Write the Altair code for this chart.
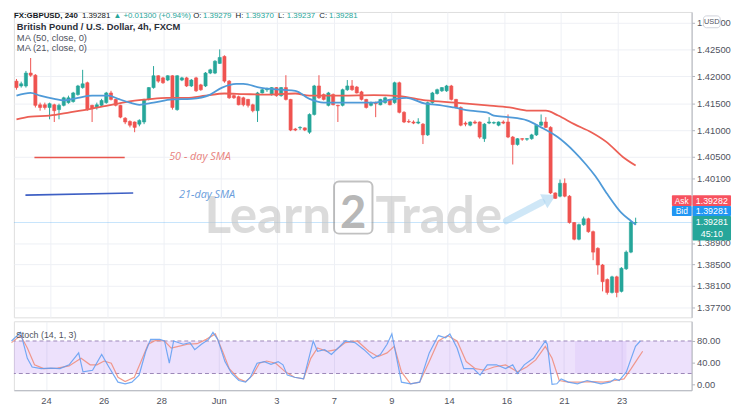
import json
import altair as alt
import pandas as pd

# ---------------- data ----------------
opens = [
1.4191, 1.4182, 1.4182, 1.4206, 1.4202, 1.4147, 1.4147, 1.4142, 1.4147, 1.4138,
1.4146, 1.4151, 1.4153, 1.4166, 1.4179, 1.4188, 1.4146, 1.4142, 1.4146, 1.4151,
1.4169, 1.4157, 1.4146, 1.4122, 1.4116, 1.4115, 1.4111, 1.4115, 1.4157, 1.4179,
1.4201, 1.4197, 1.4193, 1.4201, 1.4138, 1.4193, 1.4197, 1.4182, 1.4197, 1.4184,
1.4182, 1.4206, 1.4206, 1.4224, 1.4237, 1.4191, 1.4164, 1.4162, 1.4160, 1.4157,
1.4147, 1.4136, 1.4169, 1.4175, 1.4166, 1.4179, 1.4164, 1.4179, 1.4157, 1.4102,
1.4104, 1.4104, 1.4096, 1.4129, 1.4182, 1.4166, 1.4146, 1.4166, 1.4146, 1.4146,
1.4175, 1.4182, 1.4180, 1.4171, 1.4157, 1.4146, 1.4151, 1.4147, 1.4151, 1.4157,
1.4151, 1.4188, 1.4133, 1.4116, 1.4115, 1.4113, 1.4111, 1.4091, 1.4151, 1.4168,
1.4173, 1.4173, 1.4182, 1.4157, 1.4142, 1.4113, 1.4109, 1.4115, 1.4115, 1.4084,
1.4113, 1.4113, 1.4109, 1.4115, 1.4115, 1.4087, 1.4073, 1.4084, 1.4083, 1.4084,
1.4091, 1.4109, 1.4115, 1.4105, 1.3983, 1.3977, 1.4001, 1.3977, 1.3928, 1.3897,
1.3924, 1.3935, 1.3911, 1.3880, 1.3849, 1.3822, 1.3798, 1.3827, 1.3800, 1.3842,
1.3873, 1.39279]

highs = [
1.4195, 1.4190, 1.4210, 1.4234, 1.4204, 1.4151, 1.4151, 1.4151, 1.4149, 1.4149,
1.4162, 1.4164, 1.4171, 1.4184, 1.4212, 1.4190, 1.4147, 1.4151, 1.4158, 1.4171,
1.4173, 1.4158, 1.4147, 1.4124, 1.4118, 1.4116, 1.4120, 1.4158, 1.4180, 1.4219,
1.4202, 1.4199, 1.4202, 1.4202, 1.4202, 1.4199, 1.4199, 1.4195, 1.4199, 1.4186,
1.4208, 1.4214, 1.4230, 1.4250, 1.4239, 1.4193, 1.4166, 1.4164, 1.4162, 1.4158,
1.4149, 1.4171, 1.4177, 1.4179, 1.4180, 1.4180, 1.4180, 1.4202, 1.4158, 1.4104,
1.4107, 1.4105, 1.4131, 1.4184, 1.4202, 1.4168, 1.4171, 1.4168, 1.4147, 1.4177,
1.4193, 1.4193, 1.4182, 1.4173, 1.4158, 1.4153, 1.4153, 1.4158, 1.4162, 1.4158,
1.4190, 1.4190, 1.4135, 1.4120, 1.4118, 1.4122, 1.4113, 1.4153, 1.4171, 1.4177,
1.4180, 1.4184, 1.4184, 1.4158, 1.4144, 1.4116, 1.4116, 1.4118, 1.4116, 1.4113,
1.4124, 1.4116, 1.4116, 1.4118, 1.4129, 1.4089, 1.4085, 1.4085, 1.4085, 1.4093,
1.4111, 1.4129, 1.4124, 1.4107, 1.3984, 1.4008, 1.4010, 1.3979, 1.3929, 1.3926,
1.3939, 1.3937, 1.3913, 1.3882, 1.3851, 1.3824, 1.3829, 1.3829, 1.3845, 1.3876,
1.3931, 1.39370]

lows = [
1.4175, 1.4179, 1.4179, 1.4199, 1.4142, 1.4136, 1.4138, 1.4120, 1.4115, 1.4120,
1.4144, 1.4149, 1.4151, 1.4164, 1.4177, 1.4136, 1.4115, 1.4138, 1.4144, 1.4149,
1.4155, 1.4144, 1.4122, 1.4111, 1.4105, 1.4096, 1.4107, 1.4111, 1.4155, 1.4177,
1.4188, 1.4186, 1.4191, 1.4138, 1.4136, 1.4191, 1.4180, 1.4180, 1.4171, 1.4173,
1.4180, 1.4204, 1.4204, 1.4223, 1.4188, 1.4158, 1.4158, 1.4146, 1.4144, 1.4142,
1.4133, 1.4115, 1.4168, 1.4171, 1.4164, 1.4162, 1.4162, 1.4155, 1.4098, 1.4098,
1.4100, 1.4098, 1.4093, 1.4127, 1.4158, 1.4155, 1.4144, 1.4146, 1.4115, 1.4144,
1.4173, 1.4173, 1.4168, 1.4155, 1.4140, 1.4144, 1.4124, 1.4146, 1.4149, 1.4146,
1.4149, 1.4131, 1.4113, 1.4113, 1.4111, 1.4111, 1.4074, 1.4089, 1.4149, 1.4166,
1.4171, 1.4171, 1.4155, 1.4140, 1.4107, 1.4107, 1.4107, 1.4111, 1.4084, 1.4078,
1.4111, 1.4111, 1.4107, 1.4111, 1.4085, 1.4036, 1.4071, 1.4080, 1.4080, 1.4082,
1.4089, 1.4107, 1.4104, 1.3981, 1.3972, 1.3975, 1.3975, 1.3926, 1.3895, 1.3895,
1.3922, 1.3909, 1.3858, 1.3831, 1.3800, 1.3794, 1.3796, 1.3789, 1.3798, 1.3840,
1.3871, 1.39237]

closes = [
1.4179, 1.4186, 1.4206, 1.4202, 1.4146, 1.4142, 1.4142, 1.4149, 1.4136, 1.4146,
1.4160, 1.4160, 1.4169, 1.4182, 1.4186, 1.4138, 1.4140, 1.4147, 1.4155, 1.4169,
1.4157, 1.4146, 1.4124, 1.4115, 1.4109, 1.4105, 1.4118, 1.4157, 1.4179, 1.4201,
1.4191, 1.4188, 1.4201, 1.4142, 1.4201, 1.4197, 1.4182, 1.4193, 1.4173, 1.4175,
1.4206, 1.4212, 1.4228, 1.4235, 1.4191, 1.4160, 1.4160, 1.4147, 1.4147, 1.4146,
1.4136, 1.4169, 1.4175, 1.4177, 1.4179, 1.4164, 1.4179, 1.4157, 1.4100, 1.4100,
1.4105, 1.4100, 1.4129, 1.4182, 1.4160, 1.4157, 1.4169, 1.4147, 1.4145, 1.4175,
1.4182, 1.4175, 1.4169, 1.4157, 1.4142, 1.4151, 1.4149, 1.4157, 1.4160, 1.4147,
1.4188, 1.4133, 1.4115, 1.4115, 1.4113, 1.4115, 1.4091, 1.4151, 1.4169, 1.4175,
1.4179, 1.4182, 1.4157, 1.4142, 1.4109, 1.4111, 1.4115, 1.4113, 1.4087, 1.4111,
1.4115, 1.4114, 1.4115, 1.4113, 1.4087, 1.4073, 1.4084, 1.4083, 1.4084, 1.4091,
1.4109, 1.4115, 1.4105, 1.3983, 1.3973, 1.4001, 1.3977, 1.3928, 1.3897, 1.3924,
1.3935, 1.3911, 1.3873, 1.3849, 1.3818, 1.3798, 1.3827, 1.3798, 1.3843, 1.3873,
1.3929, 1.39281]

ma21_idx = [0, 3, 5, 8, 10, 13, 16, 19.5, 21.5, 24, 26, 29, 33, 37, 41, 43.5, 46.5, 48,
            51.5, 56, 59, 62, 65, 68.5, 75.5, 79.5, 82.5, 86.5, 89, 92.5, 96, 99.5, 101,
            104, 108, 111, 114.5, 118, 120.5, 122.5, 125, 128, 130, 131]
ma21_val = [1.4164, 1.4169, 1.4164, 1.4158, 1.4155, 1.4160, 1.4164, 1.4164, 1.4158, 1.4151,
            1.4147, 1.4151, 1.4157, 1.4158, 1.4166, 1.4179, 1.4186, 1.4186, 1.4179, 1.4175,
            1.4173, 1.4158, 1.4151, 1.4151, 1.4151, 1.4157, 1.4160, 1.4149, 1.4147, 1.4142,
            1.4136, 1.4133, 1.4127, 1.4124, 1.4118, 1.4105, 1.4087, 1.4060, 1.4036, 1.4014,
            1.3981, 1.3946, 1.3931, 1.3924]

ma50_idx = [0, 3, 7, 11.3, 16, 19.5, 23.6, 27.7, 31.8, 36, 40, 44, 48, 52.4, 59, 62, 68.8,
            75.6, 81, 86.6, 92.8, 99.6, 104.3, 108.4, 112, 114.6, 118, 121.6, 124.8, 128.3, 131]
ma50_val = [1.4120, 1.4125, 1.4127, 1.4133, 1.4140, 1.4146, 1.4153, 1.4157, 1.4160, 1.4160,
            1.4164, 1.4168, 1.4167, 1.4166, 1.4168, 1.4164, 1.4164, 1.4165, 1.4163, 1.4155,
            1.4151, 1.4146, 1.4142, 1.4136, 1.4136, 1.4127, 1.4111, 1.4096, 1.4078, 1.4050,
            1.4034]

k_idx = [0, 1.9, 3.3, 4.3, 6.2, 8.2, 10.1, 12.0, 14.0, 14.9, 16.9, 18.8, 20.3, 22.2, 23.7,
         25.1, 26.6, 28.0, 29.0, 30.9, 31.9, 32.9, 33.8, 35.8, 37.2, 38.2, 39.6, 41.1, 42.0,
         43.0, 44.5, 45.9, 47.4, 48.8, 49.8, 51.2, 52.7, 54.1, 55.6, 56.6, 57.5, 59.0, 60.9,
         62.9, 63.8, 65.3, 66.7, 69.6, 71.6, 73.5, 75.4, 76.9, 78.3, 79.3, 81.3, 83.2, 85.1,
         87.1, 89.0, 90.5, 91.4, 92.9, 94.3, 96.3, 97.7, 99.2, 101.1, 103.0, 104.5, 105.5,
         106.9, 108.8, 110.3, 111.3, 111.7, 112.7, 113.7, 114.6, 116.1, 118.0, 120.0, 121.4,
         122.9, 124.8, 125.8, 126.7, 128.2, 129.2, 130.1, 131.1]
k_val = [80, 96, 48, 32, 29, 30, 29, 36, 58, 23, 26, 55, 32, 4, 1, 4, 17, 61, 83, 83,
         80, 39, 80, 74, 77, 64, 74, 83, 96, 83, 42, 20, 7, 4, 13, 39, 42, 37, 42, 36,
         17, 13, 10, 80, 61, 64, 55, 80, 77, 64, 48, 55, 74, 93, 4, 1, 4, 58, 90, 86,
         93, 67, 29, 29, 17, 36, 36, 29, 36, 20, 36, 48, 67, 80, 74, 0, 1, 10, 4, 1,
         7, 4, 1, 4, 10, 7, 23, 48, 70, 80]

d_idx = [0, 1.9, 3.3, 4.8, 6.7, 9.6, 12.0, 14.5, 16.4, 17.8, 19.3, 20.8, 22.2, 23.7, 25.6,
         27.0, 28.5, 30.0, 31.9, 33.3, 34.8, 36.7, 38.7, 40.6, 42.5, 44.0, 45.4, 47.4, 48.8,
         50.3, 51.7, 53.2, 55.1, 57.1, 59.0, 60.9, 62.4, 63.8, 65.8, 67.7, 69.6, 72.1, 74.5,
         76.4, 78.3, 79.8, 81.3, 83.2, 85.1, 87.1, 89.0, 90.9, 92.9, 94.8, 96.7, 98.7, 100.6,
         103.0, 105.5, 107.4, 109.3, 111.3, 112.7, 114.2, 116.1, 118.5, 120.9, 123.4, 125.8,
         127.7, 129.2, 130.6, 131.6]
d_val = [77, 90, 67, 36, 29, 30, 34, 48, 36, 36, 43, 39, 13, 5, 13, 42, 74, 81, 80, 67,
         70, 74, 75, 83, 93, 61, 29, 10, 5, 17, 39, 43, 39, 23, 13, 10, 48, 67, 61, 64,
         77, 80, 61, 51, 58, 70, 23, 1, 4, 42, 80, 90, 80, 42, 29, 26, 32, 36, 23, 32,
         45, 70, 48, 7, 4, 4, 5, 4, 7, 10, 29, 48, 61]

x_labels = ["24", "26", "28", "Jun", "3", "7", "9", "14", "16", "21", "23"]
x_label_pos = [7.2, 19.2, 31.2, 43.2, 55.2, 67.2, 79.2, 91.2, 103.2, 115.2, 127.2]
price_ticks = [1.43, 1.425, 1.42, 1.415, 1.41, 1.405, 1.401, 1.389, 1.385, 1.381, 1.377]
stoch_ticks = [0, 40, 80]
stoch_band = [20, 80]
stoch_shade_idx = [117.5, 128.2]
last_price = 1.39281

# hand-drawn legend in the picture
leg50_idx = [3.8, 22.9]
leg50_price = [1.4049, 1.4049]
leg21_idx = [1.9, 24.7]
leg21_price = [1.3979, 1.3983]
leg_text = ["50 - day SMA", "21-day SMA"]
leg_text_idx = [32.3, 34.4]
leg_text_price = [1.4049, 1.3979]

for name, arr in [("highs", highs), ("lows", lows), ("closes", closes)]:
    if len(arr) != len(opens):
        raise SystemExit(f"{name} has {len(arr)} values, opens has {len(opens)}")

# ---------------- build ----------------
FONT = "Liberation Sans"
GREEN = "#26a69a"
RED = "#ef5350"
W = 688
H_MAIN = 310
H_STO = 70
X_DOMAIN = [0.5, 141.8]
Y_DOMAIN = [1.37517, 1.43196]
S_DOMAIN = [-10.9, 116.4]
GRID = "#eef0f5"
AXIS_LINE = "#b2b5be"

candles = pd.DataFrame({"i": list(range(len(opens))), "open": opens, "high": highs,
                        "low": lows, "close": closes})
candles["dir"] = ["up" if c >= o else "down" for o, c in zip(opens, closes)]

xs = alt.Scale(domain=X_DOMAIN, nice=False, zero=False)
ys = alt.Scale(domain=Y_DOMAIN, nice=False, zero=False)
ss = alt.Scale(domain=S_DOMAIN, nice=False, zero=False)
cs = alt.Scale(domain=["up", "down"], range=[GREEN, RED])

x_axis_main = alt.Axis(values=x_label_pos, labels=False, ticks=False, domain=False,
                       grid=True, gridColor=GRID, title=None)
y_axis_main = alt.Axis(orient="right", values=price_ticks, format=".5f", title=None,
                       labelFont=FONT, labelFontSize=9.5, labelColor="#50535e",
                       tickSize=3, tickColor=AXIS_LINE, labelPadding=2,
                       domainColor=AXIS_LINE, grid=True, gridColor=GRID)
label_expr = json.dumps(x_labels) + "[round((datum.value - 7.2) / 12)]"
x_axis_sto = alt.Axis(values=x_label_pos, labelExpr=label_expr, title=None, ticks=False,
                      grid=True, gridColor=GRID, domainColor=AXIS_LINE, labelFont=FONT,
                      labelFontSize=9.5, labelColor="#50535e", labelPadding=5)
y_axis_sto = alt.Axis(orient="right", values=stoch_ticks, format=".2f", title=None,
                      labelFont=FONT, labelFontSize=9.5, labelColor="#50535e",
                      tickSize=3, tickColor=AXIS_LINE, labelPadding=2,
                      domainColor=AXIS_LINE, grid=False)

X = lambda f: alt.X(f, type="quantitative", scale=xs, axis=x_axis_main)
Y = lambda f: alt.Y(f, type="quantitative", scale=ys, axis=y_axis_main)

dummy = pd.DataFrame({"a": [0]})


def txt(s, x, y, color, size=9.0, weight="normal", align="left", style=None,
        font=FONT, baseline="middle", opacity=1.0):
    kw = dict(text=s, align=align, baseline=baseline, fontSize=size, fontWeight=weight,
              color=color, font=font, opacity=opacity)
    if style:
        kw["fontStyle"] = style
    return alt.Chart(dummy).mark_text(**kw).encode(x=alt.value(x), y=alt.value(y))


def box(x1, x2, y1, y2, fill, stroke=None, radius=2, opacity=1.0, sw=1):
    kw = dict(color=fill, cornerRadius=radius, opacity=opacity)
    if stroke:
        kw["stroke"] = stroke
        kw["strokeWidth"] = sw
    return alt.Chart(dummy).mark_rect(**kw).encode(
        x=alt.value(x1), x2=alt.value(x2), y=alt.value(y1), y2=alt.value(y2))


wicks = alt.Chart(candles).mark_rule(strokeWidth=1).encode(
    x=X("i"), y=Y("low"), y2="high",
    color=alt.Color("dir:N", scale=cs, legend=None))
bodies = alt.Chart(candles).mark_bar(size=3.2, strokeWidth=0.6).encode(
    x=X("i"), y=Y("open"), y2="close",
    color=alt.Color("dir:N", scale=cs, legend=None),
    stroke=alt.Stroke("dir:N", scale=cs, legend=None))

ma21 = alt.Chart(pd.DataFrame({"i": ma21_idx, "v": ma21_val})).mark_line(
    color="#4f9ad8", strokeWidth=1.8, interpolate="monotone").encode(x=X("i"), y=Y("v"))
ma50 = alt.Chart(pd.DataFrame({"i": ma50_idx, "v": ma50_val})).mark_line(
    color="#ec5f55", strokeWidth=1.8, interpolate="monotone").encode(x=X("i"), y=Y("v"))

price_line = alt.Chart(pd.DataFrame({"p": [last_price]})).mark_rule(
    color="#2196f3", strokeWidth=1, opacity=0.25).encode(y=Y("p"))

leg50_line = alt.Chart(pd.DataFrame({"i": leg50_idx, "p": leg50_price})).mark_line(
    color="#e8554e", strokeWidth=1.6).encode(x=X("i"), y=Y("p"))
leg21_line = alt.Chart(pd.DataFrame({"i": leg21_idx, "p": leg21_price})).mark_line(
    color="#3d5fc4", strokeWidth=1.6).encode(x=X("i"), y=Y("p"))
leg50_text = alt.Chart(pd.DataFrame({"t": [leg_text[0]], "i": [leg_text_idx[0]],
                                     "p": [leg_text_price[0]]})).mark_text(
    align="left", baseline="middle", fontSize=11, fontStyle="italic", font="Open Sans",
    color="#e8837e").encode(x=X("i"), y=Y("p"), text="t:N")
leg21_text = alt.Chart(pd.DataFrame({"t": [leg_text[1]], "i": [leg_text_idx[1]],
                                     "p": [leg_text_price[1]]})).mark_text(
    align="left", baseline="middle", fontSize=11, fontStyle="italic", font="Open Sans",
    color="#6a9ddc").encode(x=X("i"), y=Y("p"), text="t:N")

# watermark
WM_FONT = "Lato"
arrow = alt.Chart(dummy).mark_rule(color="#a8d3f0", strokeWidth=7, opacity=0.55,
                                   strokeCap="round").encode(
    x=alt.value(500), y=alt.value(212), x2=alt.value(536), y2=alt.value(193))
arrow_head = alt.Chart(dummy).mark_point(shape="triangle", angle=63, size=260, filled=True,
                                         color="#a8d3f0", opacity=0.6).encode(
    x=alt.value(542), y=alt.value(190))
wm = [
    arrow, arrow_head,
    txt("Learn", 322, 224, "#c4c4c4", size=52, weight="bold", align="right",
        baseline="alphabetic", opacity=0.6, font=WM_FONT),
    box(325, 364, 172, 225, "#ffffff", stroke="#8f8f8f", radius=5, opacity=0.55, sw=2),
    txt("2", 344.5, 219, "#a0a0a0", size=46, weight="bold", align="center",
        baseline="alphabetic", opacity=0.75, font=WM_FONT),
    txt("Trade", 367, 224, "#c4c4c4", size=52, weight="bold", align="left",
        baseline="alphabetic", opacity=0.6, font=WM_FONT),
]

# header & indicator texts
dark = "#131722"
HS = 8
head = [
    txt("FX:GBPUSD, 240", 0, 4, dark, size=HS, weight="bold"),
    txt("1.39281", 69, 4, dark, size=HS),
    txt("▲ +0.01300 (+0.94%)", 101, 4, GREEN, size=HS),
    txt("O:", 182, 4, dark, size=HS), txt("1.39279", 192, 4, GREEN, size=HS),
    txt("H:", 225, 4, dark, size=HS), txt("1.39370", 235, 4, GREEN, size=HS),
    txt("L:", 268, 4, dark, size=HS), txt("1.39237", 277, 4, GREEN, size=HS),
    txt("C:", 310, 4, dark, size=HS), txt("1.39281", 320, 4, GREEN, size=HS),
    txt("British Pound / U.S. Dollar, 4h, FXCM", 3, 15, "#2a2e39", size=9.5, weight="bold"),
    txt("MA (50, close, 0)", 3, 26, "#50535e", size=9.5),
    txt("MA (21, close, 0)", 3, 37, "#50535e", size=9.5),
]

# right-side price badges
badges = [
    box(700, 717, 4, 16, "#ffffff", stroke="#cfd2da", radius=3),
    txt("USD", 708.5, 10, "#50535e", size=7.5, align="center"),
    box(668, 688, 186, 197, "#f7525f", radius=1),
    txt("Ask", 678, 191.5, "white", size=8.5, align="center"),
    box(689, 728, 186, 197, "#f7525f", radius=1),
    txt("1.39282", 708.5, 191.5, "white", size=9, align="center"),
    box(668, 688, 197, 207, "#2196f3", radius=1),
    txt("Bid", 678, 202, "white", size=8.5, align="center"),
    box(689, 728, 197, 207, "#2196f3", radius=1),
    txt("1.39281", 708.5, 202, "white", size=9, align="center"),
    box(689, 728, 207, 232, GREEN, radius=1),
    txt("1.39281", 708.5, 213.5, "white", size=9, align="center"),
    txt("45:10", 708.5, 225.5, "white", size=9, align="center"),
]

main = alt.layer(
    price_line, *wm, wicks, bodies, ma50, ma21,
    leg50_line, leg21_line, leg50_text, leg21_text, *head, *badges
).properties(width=W, height=H_MAIN)

# ---------------- stochastic panel ----------------
XS = lambda f: alt.X(f, type="quantitative", scale=xs, axis=x_axis_sto)
YS = lambda f: alt.Y(f, type="quantitative", scale=ss, axis=y_axis_sto)

band = alt.Chart(pd.DataFrame({"lo": [stoch_band[0]], "hi": [stoch_band[1]],
                               "x1": [X_DOMAIN[0]], "x2": [X_DOMAIN[1]]})).mark_rect(
    color="#8e44ec", opacity=0.16).encode(x=XS("x1"), x2="x2", y=YS("lo"), y2="hi")
shade = alt.Chart(pd.DataFrame({"lo": [stoch_band[0]], "hi": [stoch_band[1]],
                                "x1": [stoch_shade_idx[0]], "x2": [stoch_shade_idx[1]]})).mark_rect(
    color="#8e44ec", opacity=0.07).encode(x=XS("x1"), x2="x2", y=YS("lo"), y2="hi")
band_lines = alt.Chart(pd.DataFrame({"v": stoch_band})).mark_rule(
    color="#9a86b8", strokeDash=[4, 3], strokeWidth=1).encode(y=YS("v"))
k_line = alt.Chart(pd.DataFrame({"i": k_idx, "v": k_val})).mark_line(
    color="#5d9cf2", strokeWidth=1.2, opacity=0.85).encode(x=XS("i"), y=YS("v"))
d_line = alt.Chart(pd.DataFrame({"i": d_idx, "v": d_val})).mark_line(
    color="#f08a78", strokeWidth=1.2, opacity=0.85).encode(x=XS("i"), y=YS("v"))

sto = alt.layer(
    band, shade, band_lines, d_line, k_line,
    txt("Stoch (14, 1, 3)", 2, 14, "#50535e", size=9),
).properties(width=W, height=H_STO)

chart = alt.vconcat(main, sto, spacing=2).properties(
    padding={"left": 0, "top": 0, "right": 0, "bottom": 0}
).configure_view(stroke="#d6d9e0").configure(background="white")

chart.save("out.html", embed_options={"renderer": "svg", "actions": False})
